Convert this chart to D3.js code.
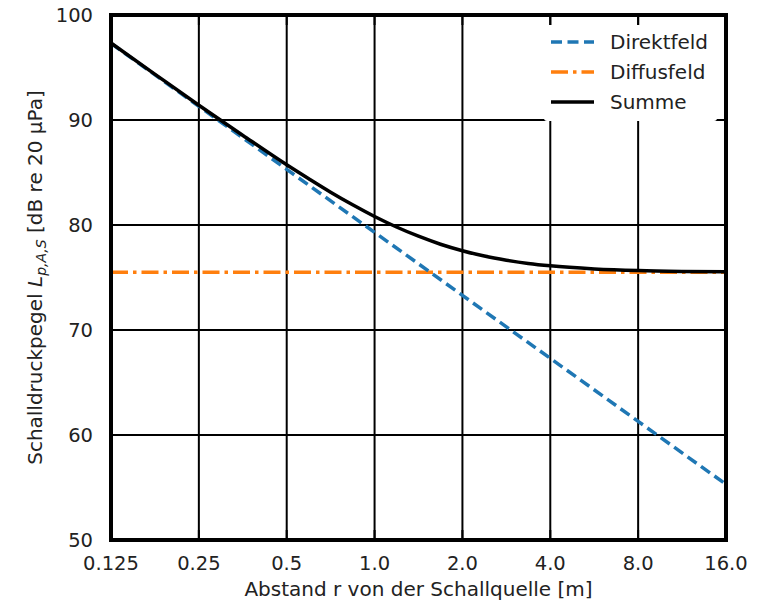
<!DOCTYPE html>
<html>
<head>
<meta charset="utf-8">
<script src="https://cdn.jsdelivr.net/npm/d3@7"></script>
<style>
  html, body { margin: 0; padding: 0; background: #fff; }
  svg { display: block; font-family: "DejaVu Sans", sans-serif; }
</style>
</head>
<body>
<svg id="chart" width="767" height="602"></svg>
<script>
// Distances (m) on the log2 axis and the tick labels shown under them
const xTicks = [0.125, 0.25, 0.5, 1, 2, 4, 8, 16];
const xTickLabels = ["0.125", "0.25", "0.5", "1.0", "2.0", "4.0", "8.0", "16.0"];
const yTicks = [50, 60, 70, 80, 90, 100];

// Direct field: falls 6 dB per doubling of distance
const direktR = [0.125, 0.25, 0.5, 1, 2, 4, 8, 16];
const direktL = [97.3, 91.3, 85.3, 79.3, 73.3, 67.3, 61.3, 55.3];

// Diffuse field: constant level
const diffusR = [0.125, 16];
const diffusL = [75.5, 75.5];

// Total level
const summeR = [0.125, 0.177, 0.25, 0.354, 0.5, 0.595, 0.707, 0.841, 1, 1.189, 1.414, 1.682, 2, 2.378, 2.83, 3.36, 4, 5.66, 8, 11.3, 16];
const summeL = [97.33, 94.35, 91.41, 88.53, 85.73, 84.4, 83.12, 81.92, 80.81, 79.81, 78.93, 78.17, 77.55, 77.04, 76.65, 76.34, 76.11, 75.82, 75.66, 75.58, 75.54];

const margin = { left: 111, right: 41, top: 15, bottom: 62 };
const W = 767, H = 602;
const svg = d3.select("#chart");

const x = d3.scaleLog().base(2).domain([0.125, 16]).range([margin.left, W - margin.right]);
const y = d3.scaleLinear().domain([50, 100]).range([H - margin.bottom, margin.top]);

// Grid
const grid = svg.append("g").attr("stroke", "#000").attr("stroke-width", 2);
grid.selectAll("line.vx").data(xTicks).join("line")
  .attr("x1", d => x(d)).attr("x2", d => x(d))
  .attr("y1", y(50)).attr("y2", y(100));
grid.selectAll("line.hy").data(yTicks).join("line")
  .attr("x1", x(0.125)).attr("x2", x(16))
  .attr("y1", d => y(d)).attr("y2", d => y(d));

// Curves
const plot = svg.append("g");
const line = d3.line().x(d => x(d[0])).y(d => y(d[1]));

plot.append("path")
  .datum(diffusR.map((r, i) => [r, diffusL[i]]))
  .attr("d", line)
  .attr("fill", "none").attr("stroke", "#ff7f0e").attr("stroke-width", 3.5)
  .attr("stroke-dasharray", "17,5,3.5,5");

plot.append("path")
  .datum(direktR.map((r, i) => [r, direktL[i]]))
  .attr("d", line)
  .attr("fill", "none").attr("stroke", "#1f77b4").attr("stroke-width", 3.5)
  .attr("stroke-dasharray", "11,5.5");

plot.append("path")
  .datum(summeR.map((r, i) => [r, summeL[i]]))
  .attr("d", d3.line().x(d => x(d[0])).y(d => y(d[1])).curve(d3.curveMonotoneX))
  .attr("fill", "none").attr("stroke", "#000").attr("stroke-width", 3.5);

// Inward tick marks
const ticks = svg.append("g").attr("stroke", "#000").attr("stroke-width", 2);
xTicks.forEach(t => {
  ticks.append("line").attr("x1", x(t)).attr("x2", x(t)).attr("y1", y(100)).attr("y2", y(100) + 10);
  ticks.append("line").attr("x1", x(t)).attr("x2", x(t)).attr("y1", y(50)).attr("y2", y(50) - 10);
});
yTicks.forEach(t => {
  ticks.append("line").attr("x1", x(0.125)).attr("x2", x(0.125) + 10).attr("y1", y(t)).attr("y2", y(t));
  ticks.append("line").attr("x1", x(16)).attr("x2", x(16) - 10).attr("y1", y(t)).attr("y2", y(t));
});

// Legend
const legendItems = [
  { label: "Direktfeld", color: "#1f77b4", dash: "11,5.5" },
  { label: "Diffusfeld", color: "#ff7f0e", dash: "17,5,3.5,5" },
  { label: "Summe", color: "#000", dash: null }
];
const lg = svg.append("g");
lg.append("rect").attr("x", 544).attr("y", 25).attr("width", 173).attr("height", 96)
  .attr("fill", "#fff").attr("rx", 3);
legendItems.forEach((it, i) => {
  const cy = 42 + i * 30;
  lg.append("line").attr("x1", 551).attr("x2", 594).attr("y1", cy).attr("y2", cy)
    .attr("stroke", it.color).attr("stroke-width", 3.5)
    .attr("stroke-dasharray", it.dash);
  lg.append("text").attr("x", 610).attr("y", cy).attr("dy", "0.35em")
    .attr("font-size", 20).attr("fill", "#222").text(it.label);
});

// Frame
svg.append("rect")
  .attr("x", x(0.125)).attr("y", y(100))
  .attr("width", x(16) - x(0.125)).attr("height", y(50) - y(100))
  .attr("fill", "none").attr("stroke", "#000").attr("stroke-width", 4);

// Tick labels
svg.append("g").selectAll("text").data(xTicks).join("text")
  .attr("x", d => x(d)).attr("y", 570)
  .attr("text-anchor", "middle").attr("font-size", 19.5).attr("fill", "#222")
  .text((d, i) => xTickLabels[i]);
svg.append("g").selectAll("text").data(yTicks).join("text")
  .attr("x", 93).attr("y", d => y(d)).attr("dy", "0.35em")
  .attr("text-anchor", "end").attr("font-size", 19.5).attr("fill", "#222")
  .text(d => d);

// Axis titles
svg.append("text").attr("x", (x(0.125) + x(16)) / 2).attr("y", 596)
  .attr("text-anchor", "middle").attr("font-size", 20).attr("fill", "#222")
  .text("Abstand r von der Schallquelle [m]");

const yl = svg.append("text")
  .attr("transform", `translate(42,${(y(50) + y(100)) / 2}) rotate(-90)`)
  .attr("text-anchor", "middle").attr("font-size", 20).attr("fill", "#222");
yl.append("tspan").text("Schalldruckpegel ");
yl.append("tspan").attr("font-style", "italic").text("L");
yl.append("tspan").attr("font-style", "italic").attr("font-size", 14).attr("dy", 4).text("p,A,S");
yl.append("tspan").attr("dy", -4).text(" [dB re 20 µPa]");
</script>
</body>
</html>
